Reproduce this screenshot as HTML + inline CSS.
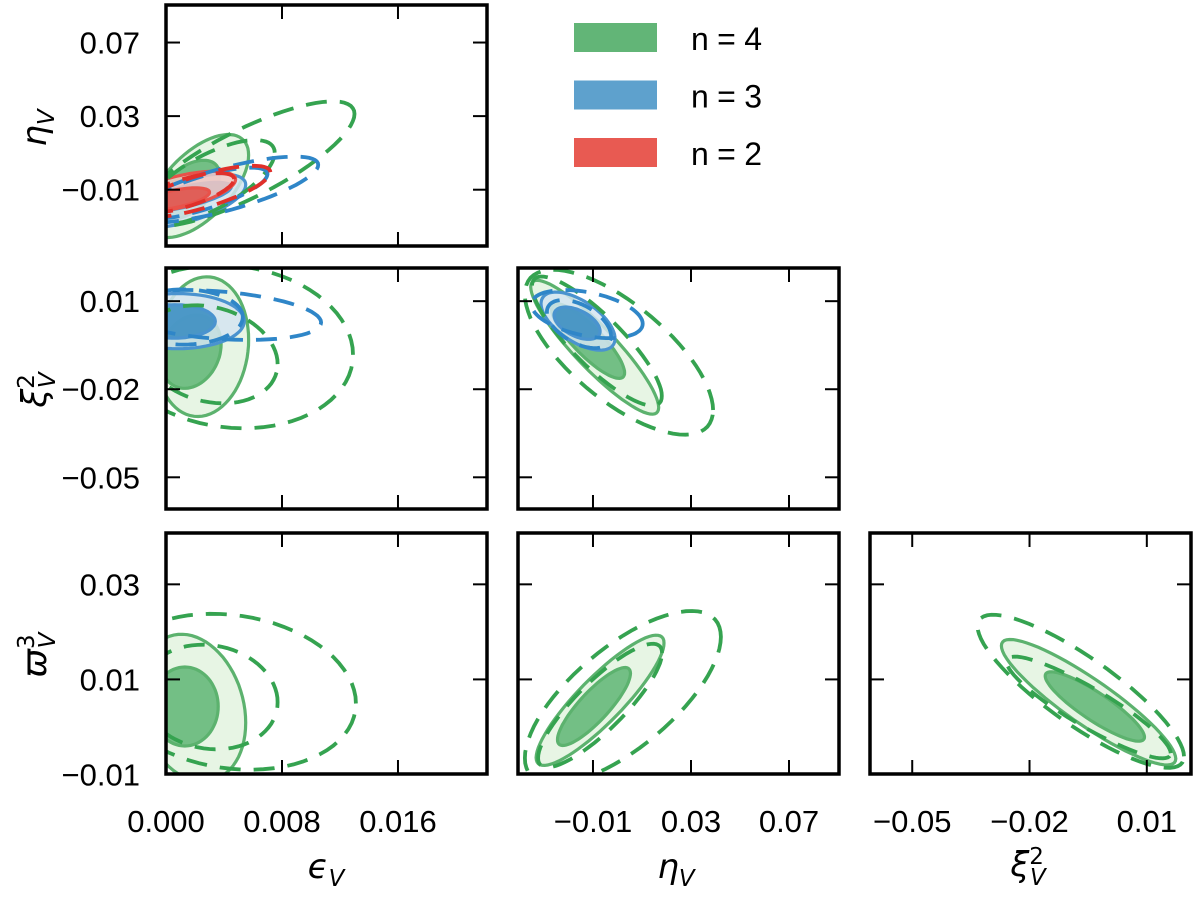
<!DOCTYPE html>
<html><head><meta charset="utf-8"><style>
html,body{margin:0;padding:0;background:#fff;}
svg{display:block;font-family:"Liberation Sans","DejaVu Sans",sans-serif;}
</style></head><body>
<svg id="chart" width="1200" height="900" viewBox="0 0 1200 900"></svg>
<script>
// ---- axis ticks ----
const epsTicks = [0.000, 0.008, 0.016];
const epsTickLabels = ["0.000", "0.008", "0.016"];
const etaTicks = [-0.01, 0.03, 0.07];
const etaTickLabels = ["\u22120.01", "0.03", "0.07"];
const xiTicks = [-0.05, -0.02, 0.01];
const xiTickLabels = ["\u22120.05", "\u22120.02", "0.01"];
const varpiTicks = [-0.01, 0.01, 0.03];
const varpiTickLabels = ["\u22120.01", "0.01", "0.03"];
// ---- legend ----
const seriesNames = ["n=4", "n=3", "n=2"];
// ---- contours: [series, kind, cx, cy, halfX, halfY, rho] ----
const contoursEpsEta = [
 ["green","s2",0.0022,-0.008,0.0035,0.028,0.6],["green","s1",0.0015,-0.01,0.0022,0.016,0.5],
 ["blue","s2",0.0015,-0.016,0.004,0.0145,0.6],["blue","s1",0.0012,-0.014,0.0033,0.008,0.7],
 ["red","s2",0.001,-0.011,0.0038,0.011,0.6],["red","s1",0.0006,-0.015,0.0024,0.006,0.6],
 ["green","d2",0.0055,0.004,0.0075,0.034,0.8],["green","d1",0.003,-0.006,0.0045,0.023,0.7],
 ["blue","d2",0.004,-0.01,0.0065,0.018,0.75],["blue","d1",0.0025,-0.012,0.0045,0.014,0.75],
 ["red","d2",0.0025,-0.011,0.0047,0.014,0.75],["red","d1",0.0012,-0.012,0.0035,0.011,0.7]
];
const contoursEpsXi = [
 ["green","s2",0.0025,-0.0055,0.0032,0.0238,0.1],["green","s1",0.0017,-0.0072,0.0021,0.0125,0.2],
 ["blue","s2",0.0008,0.0032,0.0046,0.0094,0],["blue","s1",0.0006,0.0031,0.0028,0.0057,0],
 ["green","d2",0.0045,-0.0055,0.0084,0.0278,-0.1],["green","d1",0.003,-0.0081,0.0047,0.0167,-0.2],
 ["blue","d2",0.0035,0.0053,0.0072,0.0085,-0.3],["blue","d1",0.0012,0.0046,0.0041,0.0094,0]
];
const contoursEtaXi = [
 ["green","s2",-0.0093,-0.0057,0.0261,0.0228,-0.9],["green","s1",-0.012,-0.0036,0.0149,0.0127,-0.85],
 ["blue","s2",-0.0161,0.0032,0.0151,0.0099,-0.6],["blue","s1",-0.0165,0.0025,0.0094,0.0055,-0.5],
 ["green","d2",0.0006,-0.0074,0.0384,0.0281,-0.7],["green","d1",-0.0084,-0.0036,0.0265,0.022,-0.85],
 ["blue","d2",-0.0124,0.0056,0.0227,0.0082,-0.4],["blue","d1",-0.0157,0.0022,0.0131,0.0082,-0.5]
];
const contoursEpsVarpi = [
 ["green","s2",0.0018,0.004,0.0037,0.0155,-0.2],["green","s1",0.0013,0.0043,0.0023,0.0083,0],
 ["green","d2",0.0045,0.0074,0.0086,0.0164,-0.15],["green","d1",0.003,0.0063,0.0047,0.011,-0.1]
];
const contoursEtaVarpi = [
 ["green","s2",-0.0071,0.0056,0.0261,0.0137,0.88],["green","s1",-0.0096,0.0043,0.0149,0.0082,0.85],
 ["green","d2",0.0022,0.0062,0.040,0.0182,0.7],["green","d1",-0.0071,0.0045,0.0253,0.013,0.85]
];
const contoursXiVarpi = [
 ["green","s2",-0.0049,0.0052,0.0223,0.0132,-0.9],["green","s1",-0.0033,0.0043,0.0127,0.0073,-0.88],
 ["green","d2",-0.0069,0.0075,0.0264,0.0161,-0.85],["green","d1",-0.0049,0.0041,0.021,0.0107,-0.9]
];

const NS = "http://www.w3.org/2000/svg";
const svg = document.getElementById("chart");
function mk(tag, attrs, parent){const e=document.createElementNS(NS,tag);for(const k in attrs)e.setAttribute(k,attrs[k]);(parent||svg).appendChild(e);return e;}
function lin(d0,d1,r0,r1){return v=>r0+(v-d0)/(d1-d0)*(r1-r0);}

const colors = {
 green:{light:"#e3f3df",dark:"#66b97a",line:"#5cb26e",dash:"#35a350"},
 blue:{light:"#d3e4f1",dark:"#3d8fc2",line:"#4a93cf",dash:"#2f86c8"},
 red:{light:"#f4c8c2",dark:"#e0544d",line:"#e8524a",dash:"#e0302a"}
};
const X = {
 eps:{dom:[0,0.02214],ticks:epsTicks,labels:epsTickLabels},
 eta:{dom:[-0.0406,0.0904],ticks:etaTicks,labels:etaTickLabels},
 xi:{dom:[-0.0608,0.0213],ticks:xiTicks,labels:xiTickLabels},
 varpi:{dom:[-0.0099,0.0408],ticks:varpiTicks,labels:varpiTickLabels}
};
const W=321,H=241;
const panels = [
 {name:"eps-eta",x:166,y:5,xv:"eps",yv:"eta",c:contoursEpsEta,xlab:false,ylab:true},
 {name:"eps-xi",x:166,y:268,xv:"eps",yv:"xi",c:contoursEpsXi,xlab:false,ylab:true},
 {name:"eta-xi",x:518,y:268,xv:"eta",yv:"xi",c:contoursEtaXi,xlab:false,ylab:false},
 {name:"eps-varpi",x:166,y:533,xv:"eps",yv:"varpi",c:contoursEpsVarpi,xlab:true,ylab:true},
 {name:"eta-varpi",x:518,y:533,xv:"eta",yv:"varpi",c:contoursEtaVarpi,xlab:true,ylab:false},
 {name:"xi-varpi",x:870,y:533,xv:"xi",yv:"varpi",c:contoursXiVarpi,xlab:true,ylab:false}
];
const defs = mk("defs",{});
panels.forEach((p,i)=>{
 const cp = mk("clipPath",{id:"clip"+i},defs);
 mk("rect",{x:p.x,y:p.y,width:W,height:H},cp);
 const sx = lin(X[p.xv].dom[0],X[p.xv].dom[1],p.x,p.x+W);
 const sy = lin(X[p.yv].dom[0],X[p.yv].dom[1],p.y+H,p.y);
 const g = mk("g",{"clip-path":"url(#clip"+i+")"});
 
 
 function pathOf(c){
  const [s,k,cx,cy,hx,hy,r]=c; const q=Math.sqrt(1-r*r); let d="";
  for(let t=0;t<=72;t++){const a=t/72*2*Math.PI;
   const px=sx(cx+hx*Math.cos(a)), py=sy(cy+hy*(r*Math.cos(a)+q*Math.sin(a)));
   d+=(t?"L":"M")+px.toFixed(1)+","+py.toFixed(1);}
  return d+"Z";
 }
 ["green","blue","red"].forEach(ser=>{
  p.c.filter(c=>c[0]===ser&&c[1]==="s2").forEach(c=>{
   const e=mk("path",{d:pathOf(c),fill:colors[ser].light,"fill-opacity":0.85,stroke:colors[ser].line,"stroke-width":3.2},g);
   
   
  });
  p.c.filter(c=>c[0]===ser&&c[1]==="s1").forEach(c=>{
   const e=mk("path",{d:pathOf(c),fill:colors[ser].dark,"fill-opacity":0.9,stroke:colors[ser].line,"stroke-width":3.2},g);
   
   
  });
 });
 ["green","blue","red"].forEach(ser=>{
  p.c.filter(c=>c[0]===ser&&(c[1]==="d2"||c[1]==="d1")).forEach(c=>{
   const e=mk("path",{d:pathOf(c),fill:"none",stroke:colors[ser].dash,"stroke-width":3.8,"stroke-dasharray":"21 13"},g);
   
   
  });
 });
 const tg = mk("g",{stroke:"#000","stroke-width":2});
 
 
 X[p.xv].ticks.forEach((v,j)=>{
  const px=sx(v);
  mk("line",{x1:px,y1:p.y,x2:px,y2:p.y+14},tg);
  mk("line",{x1:px,y1:p.y+H,x2:px,y2:p.y+H-14},tg);
  if(p.xlab){const t=mk("text",{x:px,y:832,"font-size":31,"text-anchor":"middle",fill:"#000"});t.textContent=X[p.xv].labels[j];
   
   }
 });
 X[p.yv].ticks.forEach((v,j)=>{
  const py=sy(v);
  mk("line",{x1:p.x,y1:py,x2:p.x+14,y2:py},tg);
  mk("line",{x1:p.x+W,y1:py,x2:p.x+W-14,y2:py},tg);
  if(p.ylab){const t=mk("text",{x:140,y:py+11,"font-size":31,"text-anchor":"end",fill:"#000"});t.textContent=X[p.yv].labels[j];
   
   }
 });
 const fr=mk("rect",{x:p.x,y:p.y,width:W,height:H,fill:"none",stroke:"#000","stroke-width":3.5});
 
 
});
</script>
<script>
(function(){
 const NS="http://www.w3.org/2000/svg", svg=document.getElementById("chart");
 function txt(x,y,html,size,rot,name){
  const t=document.createElementNS(NS,"text");
  t.setAttribute("x",x);t.setAttribute("y",y);t.setAttribute("font-size",size);t.setAttribute("text-anchor","middle");
  t.setAttribute("font-family","'DejaVu Sans','Liberation Sans',sans-serif");
  if(rot)t.setAttribute("transform","rotate(-90 "+x+" "+y+")");
  t.innerHTML=html;
  
  
  svg.appendChild(t);
 }
 const sub=(b,s,sp)=>'<tspan font-style="italic">'+b+'</tspan>'+(sp?'<tspan dy="-12" font-size="23">'+sp+'</tspan><tspan dx="-14" dy="21" font-size="23" font-style="italic">'+s+'</tspan>':'<tspan dy="8" font-size="23" font-style="italic">'+s+'</tspan>');
 txt(326,878,sub("\u03f5","V"),34,false,"x-axis-title-eps");
 txt(676,878,sub("\u03b7","V"),34,false,"x-axis-title-eta");
 txt(1028,876,sub("\u03be","V","2"),34,false,"x-axis-title-xi");
 txt(46,128,sub("\u03b7","V"),34,true,"y-axis-title-eta");
 txt(46,390,sub("\u03be","V","2"),34,true,"y-axis-title-xi");
 txt(46,655,sub("\u03d6","V","3"),34,true,"y-axis-title-varpi");
 const cols=["#62b577","#5ea1cd","#e85a52"];
 seriesNames.forEach((n,i)=>{
  const r=document.createElementNS(NS,"rect");
  r.setAttribute("x",574);r.setAttribute("y",23+i*57.5);r.setAttribute("width",83);r.setAttribute("height",29);r.setAttribute("fill",cols[i]);
  
  
  svg.appendChild(r);
  const t=document.createElementNS(NS,"text");
  t.setAttribute("x",691);t.setAttribute("y",50+i*57.5);t.setAttribute("font-size",32);
  t.setAttribute("textLength",71);
  t.setAttribute("font-family","'Liberation Sans',sans-serif");
  t.textContent=n;
  
  
  svg.appendChild(t);
 });
})();
</script>
</body></html>
